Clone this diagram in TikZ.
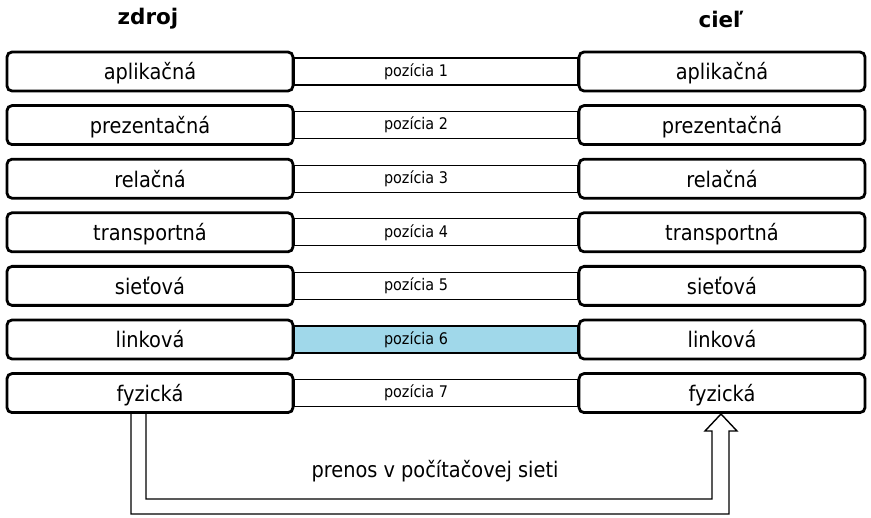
\documentclass[tikz,border=0pt]{standalone}
\usepackage{fontspec}
\setmainfont{DejaVu Sans}[FakeStretch=0.9]
\newfontfamily\headfont{DejaVu Sans}
\usetikzlibrary{positioning,backgrounds,calc}

\definecolor{barblue}{RGB}{160,216,234}

\tikzstyle{layer} = [draw, rectangle, rounded corners=5pt, line width=2.8pt, minimum width=286pt, minimum height=39pt, text height=21pt, text depth=4pt, font=\fontsize{21.5}{24}\selectfont]
\tikzstyle{head} = [font=\headfont\bfseries\fontsize{21.5}{24}\selectfont]
\tikzstyle{poslabel} = [font=\fontsize{16}{18}\selectfont]
\tikzstyle{bar} = [draw, line width=1.2pt]

\begin{document}
\begin{tikzpicture}[x=1pt, y=-1pt, node distance=53.6pt]
  \useasboundingbox (0,0) rectangle (871,518);
  \node [head] (src) at (148,19) {zdroj};
  \node [head] (dst) at (721,19) {cieľ};

  \node [layer] (l1) at (150,71.5) {aplikačná};
  \node [layer, below of=l1] (l2) {prezentačná};
  \node [layer, below of=l2] (l3) {relačná};
  \node [layer, below of=l3] (l4) {transportná};
  \node [layer, below of=l4] (l5) {sieťová};
  \node [layer, below of=l5] (l6) {linková};
  \node [layer, below of=l6] (l7) {fyzická};

  \node [layer, right of=l1, node distance=572pt] (r1) {aplikačná};
  \node [layer, below of=r1] (r2) {prezentačná};
  \node [layer, below of=r2] (r3) {relačná};
  \node [layer, below of=r3] (r4) {transportná};
  \node [layer, below of=r4] (r5) {sieťová};
  \node [layer, below of=r5] (r6) {linková};
  \node [layer, below of=r6] (r7) {fyzická};

  \begin{pgfonlayer}{background}
    \fill [barblue] ([yshift=12.9pt]l6.east) rectangle ([yshift=-12.9pt]r6.west);
    \foreach \i in {1,...,7} {
      \draw [bar] ([yshift=13.5pt]l\i.east) rectangle ([yshift=-13.5pt]r\i.west);
      \node [poslabel, xshift=-20pt] (p\i) at ($(l\i.east)!0.5!(r\i.west)$) {pozícia \i};
    }
  \end{pgfonlayer}

  % transfer between source and destination
  \coordinate [xshift=-19pt] (a) at (l7.south);
  \coordinate [xshift=-4pt] (b) at (l7.south);
  \coordinate [xshift=-1pt] (tip) at (r7.south);
  \draw [line width=1.4pt, line join=miter]
    (b) -- ++(0,85) -| ([xshift=-9pt,yshift=-17pt]tip) -- ++(-7,0) -- (tip)
    -- ++(16,17) -- ++(-8,0) |- ++(-598,83) -- (a);
  \node [font=\fontsize{21.5}{24}\selectfont] (net) at (435,471) {prenos v počítačovej sieti};
\end{tikzpicture}
\end{document}
